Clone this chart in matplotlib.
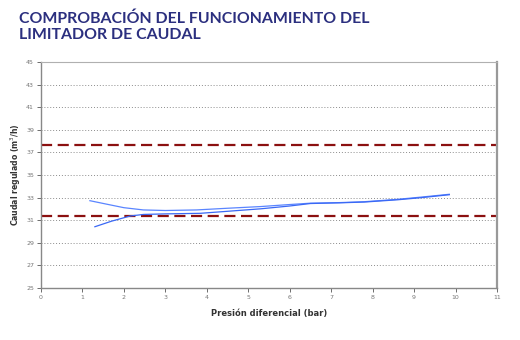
import matplotlib
matplotlib.use("Agg")
import matplotlib.pyplot as plt

title_text = "COMPROBACIÓN DEL FUNCIONAMIENTO DEL\nLIMITADOR DE CAUDAL"
x_label = "Presión diferencial (bar)"
y_label = "Caudal regulado (m$^3$/h)"

x_ticks = list(range(0, 12))
y_ticks = list(range(25, 47, 2))

# descending branch
x_down = [1.18, 1.6, 2.0, 2.47, 3.0, 3.75, 4.5, 5.3, 6.0, 6.5, 7.2, 7.8, 8.6, 9.2, 9.85]
q_down = [32.72, 32.4, 32.1, 31.9, 31.85, 31.9, 32.05, 32.2, 32.38, 32.5, 32.55, 32.63, 32.84, 33.05, 33.29]
# ascending branch
x_up = [1.30, 1.7, 2.15, 2.47, 3.0, 3.84, 4.5, 5.3, 6.0, 6.5, 7.2, 7.8, 8.6, 9.2, 9.85]
q_up = [30.41, 30.9, 31.36, 31.5, 31.55, 31.6, 31.78, 32.0, 32.25, 32.47, 32.53, 32.6, 32.8, 33.0, 33.25]

limit_upper = 37.66
limit_lower = 31.36

fig = plt.figure(figsize=(5.2, 3.4), dpi=100)
fig.patch.set_facecolor("white")
ax = fig.add_axes([0.0788, 0.1538, 0.8770, 0.6630])

for y in y_ticks[1:-1]:
    ax.axhline(y, color="#8c8c8c", linestyle=(0, (1, 2)), linewidth=0.7, zorder=1)

ax.axhline(limit_upper, color="#8b1010", linestyle=(0, (5, 2.5)), linewidth=1.6, zorder=2)
ax.axhline(limit_lower, color="#8b1010", linestyle=(0, (5, 2.5)), linewidth=1.6, zorder=2)

ax.plot(x_down, q_down, color="#5a85ff", linewidth=0.9, zorder=3)
ax.plot(x_up, q_up, color="#3a68f5", linewidth=0.9, zorder=3)

ax.set_xlim(0, 11)
ax.set_ylim(25, 45)
ax.set_xticks(x_ticks)
ax.set_yticks(y_ticks)
ax.tick_params(axis="both", labelsize=4.5, colors="#555555", length=3, width=0.6, direction="out", pad=2)
ax.tick_params(axis="both", labelcolor="#777777")

for side in ["left", "bottom"]:
    ax.spines[side].set_color("#888888")
    ax.spines[side].set_linewidth(1.0)
ax.spines["top"].set_color("#b0b0b0")
ax.spines["top"].set_linewidth(0.8)
ax.spines["right"].set_color("#999999")
ax.spines["right"].set_linewidth(1.6)

ax.set_xlabel(x_label, fontsize=6, fontweight="bold", color="#333333", labelpad=7)
ax.set_ylabel(y_label, fontsize=5.6, fontweight="bold", color="#333333", labelpad=2)

fig.text(0.036, 0.966, title_text, fontsize=11.4, fontweight="bold", color="#2b2f7f",
         family=["Lato", "DejaVu Sans"], va="top", ha="left", linespacing=1.2)

fig.savefig("out.png", dpi=100, facecolor="white")
